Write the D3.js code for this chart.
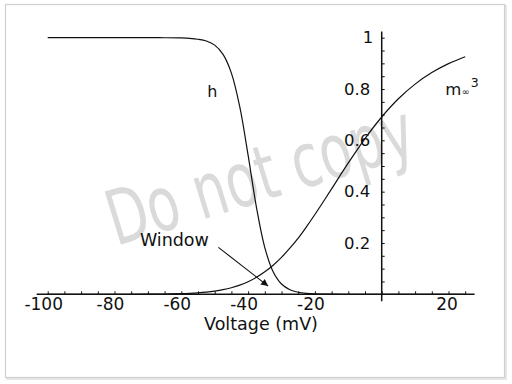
<!DOCTYPE html>
<html>
<head>
<meta charset="utf-8">
<script src="https://cdn.jsdelivr.net/npm/d3@7"></script>
<style>
  html, body { margin: 0; padding: 0; background: #fff; }
  svg { display: block; }
  text { font-family: "DejaVu Sans", Verdana, sans-serif; fill: #111; }
</style>
</head>
<body>
<svg id="chart" width="512" height="384"></svg>
<script>
// ---- data ----
const voltage = [-100, -90, -80, -70, -65, -60, -57.5, -55, -52.5, -50, -47.5, -45, -42.5, -40, -37.5, -35, -32.5, -30, -27.5, -25, -22.5, -20, -17.5, -15, -10, -5, 0, 5, 10, 15, 20, 25];
const hValues = [1, 1, 1, 1, 0.9998, 0.999, 0.9975, 0.994, 0.987, 0.971, 0.935, 0.862, 0.731, 0.542, 0.339, 0.182, 0.088, 0.040, 0.018, 0.008, 0.0035, 0.0015, 0.0007, 0.0003, 0, 0, 0, 0, 0, 0, 0, 0];
const m3Values = [0, 0, 0.0001, 0.0005, 0.0011, 0.0026, 0.0039, 0.0058, 0.0086, 0.0126, 0.0181, 0.0257, 0.0358, 0.049, 0.0661, 0.0875, 0.1133, 0.144, 0.1796, 0.219, 0.2636, 0.311, 0.3605, 0.411, 0.512, 0.607, 0.691, 0.762, 0.819, 0.864, 0.899, 0.926];
const xTickLabels = [-100, -80, -60, -40, -20, 20];
const xMinorTicks = d3.range(-100, 26, 5);
const yTickLabels = [0.2, 0.4, 0.6, 0.8, 1];
const yMinorTicks = d3.range(1, 21).map(i => i * 0.05);
const xAxisTitle = "Voltage (mV)";
const windowLabel = { text: "Window", v: -72.4, y: 0.19 };
const windowArrow = { v0: -48.9, y0: 0.183, v1: -34.0, y1: 0.032 };
const hLabel = { text: "h", v: -52.2, y: 0.768 };
const mLabel = { v: 19.0, y: 0.777 };
const watermark = "Do not copy";

// ---- drawing ----
const svg = d3.select("#chart");
const x = d3.scaleLinear().domain([-100, 20]).range([47.7, 448.5]);
const y = d3.scaleLinear().domain([0, 1]).range([294.3, 37.7]);

// frame
svg.append("rect").attr("x", 7).attr("y", 6).attr("width", 499).attr("height", 373)
  .attr("fill", "none").attr("stroke", "#e6e6e6").attr("stroke-width", 2);
svg.append("rect").attr("x", 5.5).attr("y", 4.5).attr("width", 499).attr("height", 373)
  .attr("fill", "#fff").attr("stroke", "#cfcfcf").attr("stroke-width", 1.2);

// watermark (behind curves, light)
svg.append("text").attr("transform", "translate(116,246) rotate(-17) scale(0.69,1)")
  .attr("font-family", "Liberation Sans").attr("font-size", 76)
  .style("fill", "#d2d2d2").attr("opacity", 0.8).text(watermark);

// x axis
svg.append("line").attr("x1", x(-103.3)).attr("x2", x(27.8))
  .attr("y1", y(0)).attr("y2", y(0)).attr("stroke", "#111").attr("stroke-width", 1.5);
const xMinor = svg.append("g").attr("transform", `translate(0,${y(0)})`)
  .call(d3.axisBottom(x).tickValues(xMinorTicks).tickSize(-3).tickFormat(""));
xMinor.select(".domain").remove();
xMinor.selectAll(".tick line").attr("stroke", "#111").attr("stroke-width", 1);
const xLab = svg.append("g").attr("transform", `translate(0,${y(0)})`)
  .call(d3.axisBottom(x).tickValues(xTickLabels).tickSize(0).tickPadding(4).tickFormat(d3.format("d")));
xLab.select(".domain").remove();
xLab.selectAll(".tick text").attr("font-size", 17).attr("font-family", "DejaVu Sans")
  .attr("fill", "#111").attr("dx", d => d < 0 ? -4.5 : -2).text(d => d < 0 ? "-" + Math.abs(d) : d);

// y axis
svg.append("line").attr("x1", x(0)).attr("x2", x(0))
  .attr("y1", y(1.024)).attr("y2", y(0) + 7).attr("stroke", "#111").attr("stroke-width", 1.5);
const yMinor = svg.append("g").attr("transform", `translate(${x(0)},0)`)
  .call(d3.axisLeft(y).tickValues(yMinorTicks).tickSize(-3).tickFormat(""));
yMinor.select(".domain").remove();
yMinor.selectAll(".tick line").attr("stroke", "#111").attr("stroke-width", 1);
const yLab = svg.append("g").attr("transform", `translate(${x(0)},0)`)
  .call(d3.axisLeft(y).tickValues(yTickLabels).tickSize(0).tickPadding(11.5).tickFormat(d => d === 1 ? "1" : d3.format(".1f")(d)));
yLab.select(".domain").remove();
yLab.selectAll(".tick text").attr("font-size", 16.5).attr("font-family", "DejaVu Sans").attr("fill", "#111")
  .attr("dx", d => d === 1 ? 3 : 0);

// curves
const line = d3.line().x(d => x(d[0])).y(d => y(d[1])).curve(d3.curveCatmullRom.alpha(0.5));
svg.append("path").datum(voltage.map((v, i) => [v, hValues[i]]))
  .attr("d", line).attr("fill", "none").attr("stroke", "#111").attr("stroke-width", 1.2);
svg.append("path").datum(voltage.map((v, i) => [v, m3Values[i]]))
  .attr("d", line).attr("fill", "none").attr("stroke", "#111").attr("stroke-width", 1.2);

// axis title
svg.append("text").attr("x", 261).attr("y", 330).attr("text-anchor", "middle")
  .attr("font-size", 17.5).text(xAxisTitle);

// labels
svg.append("text").attr("x", x(hLabel.v)).attr("y", y(hLabel.y)).attr("font-size", 16).text(hLabel.text);
const mt = svg.append("text").attr("x", x(mLabel.v)).attr("y", y(mLabel.y)).attr("font-size", 16.5);
mt.append("tspan").text("m");
mt.append("tspan").attr("font-size", 9.5).attr("dx", 0.5).text("\u221E");
mt.append("tspan").attr("font-size", 12.5).attr("dy", -8).attr("dx", 1).text("3");

// window annotation
svg.append("defs").append("marker").attr("id", "arrow").attr("viewBox", "0 0 10 10")
  .attr("refX", 10).attr("refY", 5).attr("markerWidth", 9).attr("markerHeight", 7)
  .attr("markerUnits", "userSpaceOnUse").attr("orient", "auto")
  .append("path").attr("d", "M0,0 L10,5 L0,10 Z").attr("fill", "#111");
svg.append("line").attr("x1", x(windowArrow.v0)).attr("y1", y(windowArrow.y0))
  .attr("x2", x(windowArrow.v1)).attr("y2", y(windowArrow.y1))
  .attr("stroke", "#111").attr("stroke-width", 1.1).attr("marker-end", "url(#arrow)");
svg.append("text").attr("x", x(windowLabel.v)).attr("y", y(windowLabel.y))
  .attr("font-size", 17.5).text(windowLabel.text);
</script>
</body>
</html>
